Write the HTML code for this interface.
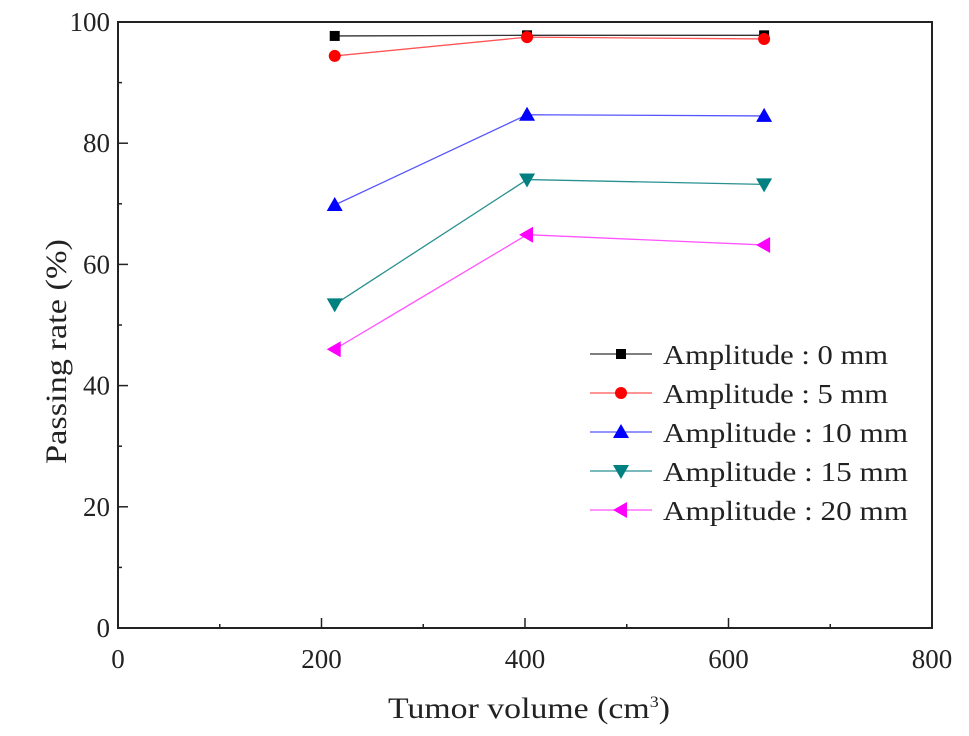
<!DOCTYPE html>
<html><head><meta charset="utf-8"><style>
body{margin:0;background:#fff;}
svg{display:block;font-family:"Liberation Serif",serif;}
</style></head><body>
<svg id="chart" width="969" height="736"></svg>
<script>
const categories=[213,402,635];
const s0=[97.7,97.8,97.8];
const s5=[94.4,97.5,97.2];
const s10=[69.8,84.7,84.5];
const s15=[53.4,74.0,73.2];
const s20=[46.0,64.9,63.2];
const seriesNames=["Amplitude : 0 mm","Amplitude : 5 mm","Amplitude : 10 mm","Amplitude : 15 mm","Amplitude : 20 mm"];
const xTicks=[0,200,400,600,800];
const yTicks=[0,20,40,60,80,100];

const NS="http://www.w3.org/2000/svg";
const svg=document.getElementById('chart');
const L=118,R=932,T=22,B=628;
const xs=v=>L+(v-0)/800*(R-L);
const ys=v=>B-(v-0)/100*(B-T);
function mk(tag,attrs,parent){const e=document.createElementNS(NS,tag);for(const k in attrs)e.setAttribute(k,attrs[k]);(parent||svg).appendChild(e);return e;}

const frame=mk('rect',{x:L,y:T,width:R-L,height:B-T,fill:'none',stroke:'#222','stroke-width':2});



for(let v=0;v<=800;v+=100){
  const major=v%200===0;
  const t=mk('line',{x1:xs(v),x2:xs(v),y1:B,y2:B-(major?10:4),stroke:'#222','stroke-width':1.5});
  
  
}
xTicks.forEach(v=>{
  const t=mk('text',{x:xs(v),y:668,'text-anchor':'middle','font-size':27,fill:'#222'});
  t.textContent=v;
  
  
});
for(let v=0;v<=100;v+=10){
  const major=v%20===0;
  const t=mk('line',{x1:L,x2:L+(major?10:4),y1:ys(v),y2:ys(v),stroke:'#222','stroke-width':1.5});
  
  
}
yTicks.forEach(v=>{
  const t=mk('text',{x:L-8,y:ys(v)+9,'text-anchor':'end','font-size':27,fill:'#222'});
  t.textContent=v;
  
  
});
const xt=mk('text',{x:388,y:718,'font-size':30,fill:'#222',textLength:282,lengthAdjust:'spacingAndGlyphs'});
xt.innerHTML='Tumor volume (cm<tspan dy="-11" font-size="16">3</tspan><tspan dy="11">)</tspan>';


const yt=mk('text',{x:-112,y:0,'font-size':30,fill:'#222',transform:'translate(66,352) rotate(-90)',textLength:225,lengthAdjust:'spacingAndGlyphs'});
yt.textContent='Passing rate (%)';



const colors=['#000','#f00','#00f','#008080','#f0f'];
const lineColors=['#333','#f55','#55f','#2a9090','#f5f'];
const shapes=['square','circle','up','down','left'];
const allSeries=[s0,s5,s10,s15,s20];
function marker(g,shape,x,y,c){
  const s=8;
  if(shape==='square')return mk('rect',{x:x-5,y:y-5,width:10,height:10,fill:c},g);
  if(shape==='circle')return mk('circle',{cx:x,cy:y,r:6,fill:c},g);
  let p;
  if(shape==='up')p=[[x,y-s],[x-s,y+6],[x+s,y+6]];
  if(shape==='down')p=[[x,y+s],[x-s,y-6],[x+s,y-6]];
  if(shape==='left')p=[[x-s,y],[x+6,y-s],[x+6,y+s]];
  return mk('polygon',{points:p.map(q=>q.join(',')).join(' '),fill:c},g);
}
allSeries.forEach((data,i)=>{
  const g=mk('g',{});
  
  
  const pl=mk('polyline',{points:data.map((v,j)=>xs(categories[j])+','+ys(v)).join(' '),fill:'none',stroke:lineColors[i],'stroke-width':1.3},g);
  
  
  data.forEach((v,j)=>{
    const m=marker(g,shapes[i],xs(categories[j]),ys(v),colors[i]);
    
    
  });
  const ly=354+i*39;
  const lg=mk('g',{},svg);
  
  
  mk('line',{x1:590,x2:652,y1:ly,y2:ly,stroke:lineColors[i],'stroke-width':1.3},lg);
  marker(lg,shapes[i],621,ly,colors[i]);
  const lt=mk('text',{x:663,y:ly+10,'font-size':27,fill:'#222',textLength:(i<2?225:245),lengthAdjust:'spacingAndGlyphs'},lg);
  lt.textContent=seriesNames[i];
});
</script>
</body></html>
